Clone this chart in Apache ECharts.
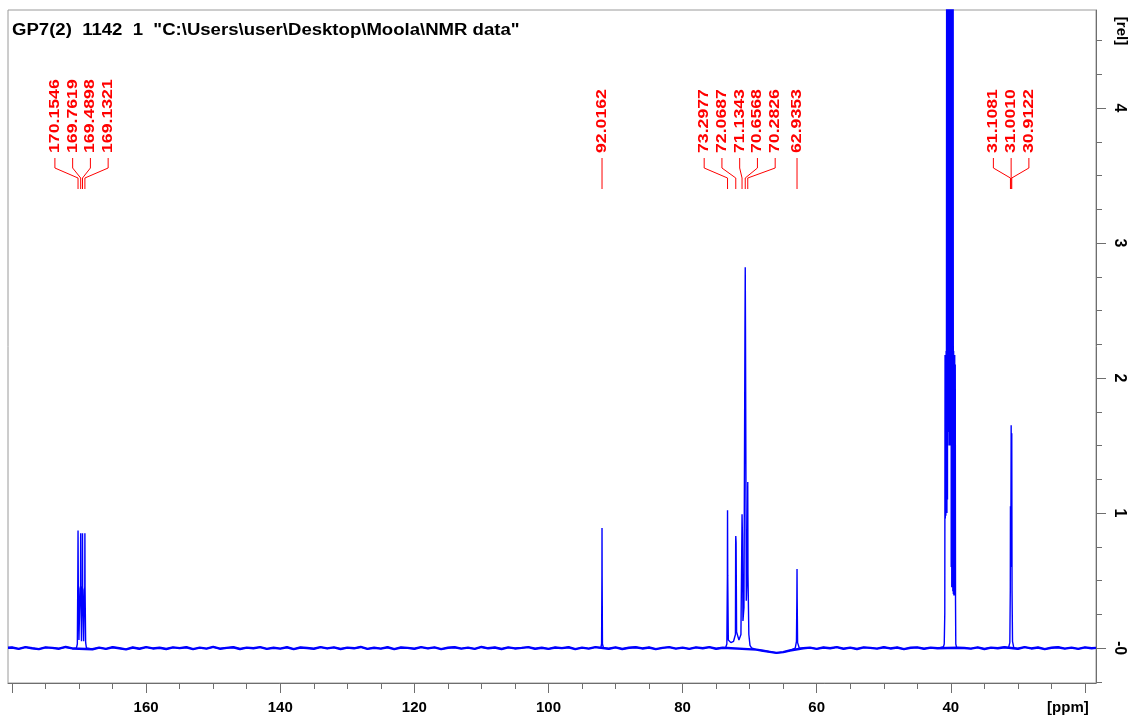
<!DOCTYPE html>
<html>
<head>
<meta charset="utf-8">
<script src="https://cdn.jsdelivr.net/npm/echarts@6/dist/echarts.min.js"></script>
<style>
  html, body { margin: 0; padding: 0; background: #ffffff; }
  #chart { width: 1143px; height: 721px; }
</style>
</head>
<body>
<div id="chart"></div>
<script>
// 13C NMR spectrum, GP7(2) in DMSO-d6: chemical shift [ppm] vs. relative intensity [rel]

const titleText = 'GP7(2)  1142  1  "C:\\Users\\user\\Desktop\\Moola\\NMR data"';

// axis ranges and tick values
const ppmRange = [18.35, 180.6];
const relRange = [-0.259, 4.726];
const ppmMajorTicks = [180, 160, 140, 120, 100, 80, 60, 40, 20];
const ppmLabelTicks = [160, 140, 120, 100, 80, 60, 40, 20];
const ppmMinorTicks = [175, 170, 165, 155, 150, 145, 135, 130, 125, 115, 110, 105, 95, 90, 85, 75, 70, 65, 55, 50, 45, 35, 30, 25];
const relMajorTicks = [0, 1, 2, 3, 4];
const relMinorTicks = [-0.25, 0.25, 0.5, 0.75, 1.25, 1.5, 1.75, 2.25, 2.5, 2.75, 3.25, 3.5, 3.75, 4.25, 4.5];

// picked peaks, grouped as annotated
const peakGroups = [
  [170.1546, 169.7619, 169.4898, 169.1321],
  [92.0162],
  [73.2977, 72.0687, 71.1343, 70.6568, 70.2826],
  [62.9353],
  [31.1081, 31.0010, 30.9122]
];

// baseline noise, one reading per ppm from 180 down to 19
const baselineStartPpm = 180;
const baselineRel = [
  0.004, -0.006, 0.007, -0.002, -0.008, 0.005, 0.001, -0.005, 0.008, -0.003,
  0.002, -0.004, -0.009, 0.003, -0.006, 0.006, -0.002, -0.010, 0.004, -0.005,
  0.007, -0.003, 0.002, -0.007, 0.005, -0.001, 0.006, -0.008, 0.003, -0.004,
  0.008, -0.005, 0.001, 0.006, -0.007, 0.003, -0.002, 0.007, -0.006, 0.002,
  -0.004, 0.006, -0.008, 0.004, 0.000, -0.005, 0.007, -0.003, 0.005, -0.007,
  0.003, -0.002, 0.008, -0.006, 0.002, -0.004, 0.006, -0.008, 0.004, 0.001,
  -0.005, 0.007, -0.003, 0.005, -0.008, 0.002, 0.006, -0.004, 0.003, -0.006,
  0.008, -0.002, 0.004, -0.007, 0.005, -0.003, 0.001, 0.007, -0.005, 0.002,
  -0.006, 0.004, -0.001, 0.006, -0.008, 0.003, -0.004, 0.007, 0.000, -0.005,
  0.005, -0.007, 0.002, 0.006, -0.003, 0.004, -0.008, 0.001, 0.007, -0.004,
  0.003, -0.006, 0.005, -0.002, 0.007, -0.005, 0.002, 0.000, 0.004, 0.006,
  0.004, -0.012, -0.020, -0.028, -0.036, -0.030, -0.018, -0.008, -0.002, 0.003,
  -0.006, 0.004, -0.002, 0.007, -0.005, 0.003, -0.007, 0.005, 0.001, -0.004,
  0.006, -0.003, 0.004, -0.008, 0.002, 0.005, -0.005, 0.003, -0.002, 0.004,
  -0.006, 0.002, 0.000, -0.004, 0.005, -0.007, 0.003, -0.002, 0.006, 0.004,
  -0.005, 0.007, -0.003, 0.004, -0.008, 0.002, 0.006, -0.004, 0.003, -0.006,
  0.005, -0.002
];
const baselineEnds = [[180.6, 0.002], [18.35, 0.001]];

// ester carbonyl region
const trace170 = [
  [170.40, 0.00], [170.26, 0.03], [170.19, 0.51], [170.155, 0.87], [170.12, 0.50], [170.02, 0.06],
  [169.86, 0.44], [169.78, 0.46], [169.762, 0.85], [169.74, 0.46], [169.64, 0.05],
  [169.56, 0.44], [169.505, 0.46], [169.49, 0.85], [169.47, 0.46], [169.32, 0.05],
  [169.22, 0.43], [169.15, 0.45], [169.132, 0.85], [169.11, 0.45], [169.02, 0.04], [168.90, 0.00]
];

const trace92 = [
  [92.20, 0.00], [92.08, 0.03], [92.03, 0.54], [92.016, 0.89], [92.00, 0.54], [91.95, 0.03], [91.80, 0.00]
];

const trace72 = [
  [73.60, 0.00], [73.40, 0.03], [73.32, 0.54], [73.298, 1.02], [73.27, 0.54], [73.18, 0.06],
  [72.80, 0.04], [72.40, 0.05], [72.12, 0.10], [72.085, 0.78], [72.069, 0.83], [72.02, 0.78],
  [71.95, 0.12], [71.60, 0.06], [71.30, 0.10], [71.16, 0.84], [71.134, 0.99], [71.08, 0.84],
  [71.00, 0.20], [70.85, 0.30], [70.70, 2.36], [70.657, 2.82], [70.62, 2.36], [70.50, 0.35],
  [70.35, 0.60], [70.283, 1.23], [70.25, 0.55], [70.12, 0.10], [69.95, 0.02], [69.70, 0.00]
];

const trace63 = [
  [63.20, 0.00], [63.02, 0.05], [62.96, 0.36], [62.935, 0.585], [62.91, 0.36], [62.85, 0.04], [62.60, 0.00]
];

// DMSO-d6 multiplet; the inner lines run off scale
const trace40 = [
  [41.10, 0.01], [40.98, 0.03], [40.90, 0.26], [40.86, 2.17], [40.82, 0.96], [40.78, 2.17],
  [40.74, 0.98], [40.70, 2.20], [40.66, 1.00], [40.62, 5.5], [40.58, 1.00], [40.54, 7.0],
  [40.50, 1.10], [40.46, 9.0], [40.42, 1.50], [40.38, 12.0], [40.34, 1.60], [40.30, 14.0],
  [40.26, 1.80], [40.22, 15.0], [40.18, 1.50], [40.14, 17.0], [40.10, 1.70], [40.06, 18.0],
  [40.02, 1.50], [39.98, 16.0], [39.94, 0.60], [39.90, 15.0], [39.86, 0.45], [39.82, 12.0],
  [39.78, 0.50], [39.74, 9.0], [39.70, 0.42], [39.66, 6.0], [39.62, 0.40], [39.58, 2.20],
  [39.54, 0.39], [39.50, 2.17], [39.46, 0.40], [39.42, 2.17], [39.38, 0.39], [39.34, 2.10],
  [39.30, 0.35], [39.26, 0.03], [39.12, 0.00]
];

const trace31 = [
  [31.40, 0.00], [31.20, 0.04], [31.13, 0.43], [31.108, 1.05], [31.06, 0.60], [31.001, 1.65],
  [30.96, 1.10], [30.912, 1.59], [30.87, 0.43], [30.80, 0.05], [30.60, 0.00]
];

const peakTraces = [trace170, trace92, trace72, trace63, trace40, trace31];

// baseline points, leaving out the stretches covered by the peak traces
const baselinePoints = baselineEnds.concat(baselineRel.map((v, i) => [baselineStartPpm - i, v]));
const insidePeak = p => peakTraces.some(t => p <= t[0][0] && p >= t[t.length - 1][0]);
const baselineOnly = baselinePoints.filter(pt => !insidePeak(pt[0])).sort((a, b) => b[0] - a[0]);
const spectrum = [].concat(baselineOnly, ...peakTraces).sort((a, b) => b[0] - a[0]);

// one record per peak label: [ppm, group, index in group, group size, group mean ppm, 0]
const peakLabels = [];
peakGroups.forEach((g, gi) => {
  const mean = g.reduce((s, v) => s + v, 0) / g.length;
  g.forEach((p, i) => peakLabels.push([p, gi, i, g.length, mean, 0]));
});

const FONT = '"Liberation Sans", Arial, sans-serif';
const RED = '#ff0000';
const BLUE = '#0000ff';
const AXIS = '#6e6e6e';

// leader layout (pixels)
const lead = { textBottom: 153, top: 158, bend1: 168, bend2: 178, bottom: 189, spacing: 17.75 };

function renderPeakLabel(params, api) {
  const ppm = api.value(0);
  const idx = api.value(2);
  const n = api.value(3);
  const mean = api.value(4);
  const px = api.coord([ppm, 0])[0];
  const cx = api.coord([mean, 0])[0];
  const lx = cx + (idx - (n - 1) / 2) * lead.spacing;
  const pts = n > 1
    ? [[lx, lead.top], [lx, lead.bend1], [px, lead.bend2], [px, lead.bottom]]
    : [[px, lead.top], [px, lead.bottom]];
  const tx = n > 1 ? lx : px;
  return {
    type: 'group',
    children: [
      { type: 'polyline', shape: { points: pts }, style: { stroke: RED, lineWidth: 1, fill: null } },
      {
        type: 'text', x: tx, y: lead.textBottom, rotation: Math.PI / 2, scaleX: 1.22,
        style: {
          text: ppm.toFixed(4), fill: RED, font: 'bold 14.5px ' + FONT,
          align: 'left', verticalAlign: 'middle'
        }
      }
    ]
  };
}

const chart = echarts.init(document.getElementById('chart'), null, { renderer: 'canvas' });

const xBase = {
  type: 'value', inverse: true, min: ppmRange[0], max: ppmRange[1], position: 'bottom',
  splitLine: { show: false },
  axisLine: { onZero: false, lineStyle: { color: AXIS, width: 1 } }
};
const yBase = {
  type: 'value', min: relRange[0], max: relRange[1], position: 'right',
  splitLine: { show: false },
  axisLine: { onZero: false, lineStyle: { color: AXIS, width: 1 } }
};

chart.setOption({
  animation: false,
  backgroundColor: '#ffffff',
  grid: { left: 8, right: 47, top: 10, bottom: 38, show: true, borderColor: '#9a9a9a', borderWidth: 1 },
  xAxis: [
    Object.assign({}, xBase, {
      axisTick: { show: true, length: 10, customValues: ppmMajorTicks, lineStyle: { color: AXIS } },
      axisLabel: {
        customValues: ppmLabelTicks, margin: 17,
        color: '#000', fontFamily: FONT, fontWeight: 'bold', fontSize: 15,
        formatter: v => (v === 20 ? '{u|[ppm]}' : String(v)),
        rich: { u: { color: '#000', fontFamily: FONT, fontWeight: 'bold', fontSize: 15, padding: [0, 34, 0, 0] } }
      }
    }),
    Object.assign({}, xBase, {
      axisLine: { show: false, onZero: false },
      axisTick: { show: true, length: 6, customValues: ppmMinorTicks, lineStyle: { color: AXIS } },
      axisLabel: { show: false }
    })
  ],
  yAxis: [
    Object.assign({}, yBase, {
      axisTick: { show: true, length: 10, customValues: relMajorTicks, lineStyle: { color: AXIS } },
      axisLabel: {
        customValues: relMajorTicks, rotate: -90, margin: 15,
        color: '#000', fontFamily: FONT, fontWeight: 'bold', fontSize: 16,
        formatter: v => (v === 0 ? '-0' : String(v))
      }
    }),
    Object.assign({}, yBase, {
      axisLine: { show: false, onZero: false },
      axisTick: { show: true, length: 6, customValues: relMinorTicks, lineStyle: { color: AXIS } },
      axisLabel: { show: false }
    })
  ],
  graphic: [
    {
      type: 'text', x: 12, y: 31, scaleX: 1.16, z: 10,
      style: { text: titleText, font: 'bold 16px ' + FONT, fill: '#000', align: 'left', verticalAlign: 'middle' }
    },
    {
      type: 'text', x: 1121, y: 31, rotation: -Math.PI / 2, z: 10,
      style: { text: '[rel]', font: 'bold 15px ' + FONT, fill: '#000', align: 'center', verticalAlign: 'middle' }
    }
  ],
  series: [
    {
      name: 'baseline', type: 'line', xAxisIndex: 0, yAxisIndex: 0,
      data: baselineOnly, showSymbol: false, symbol: 'none', sampling: null, silent: true,
      lineStyle: { color: BLUE, width: 2.4 }, clip: true, z: 2
    },
    {
      name: 'spectrum', type: 'line', xAxisIndex: 0, yAxisIndex: 0,
      data: spectrum, showSymbol: false, symbol: 'none', sampling: null,
      lineStyle: { color: BLUE, width: 1.4 }, clip: true, z: 3
    },
    {
      name: 'peaks', type: 'custom', xAxisIndex: 0, yAxisIndex: 0,
      data: peakLabels, encode: { x: 0, y: 5 }, clip: false, z: 5,
      renderItem: renderPeakLabel
    }
  ]
});
</script>
</body>
</html>
